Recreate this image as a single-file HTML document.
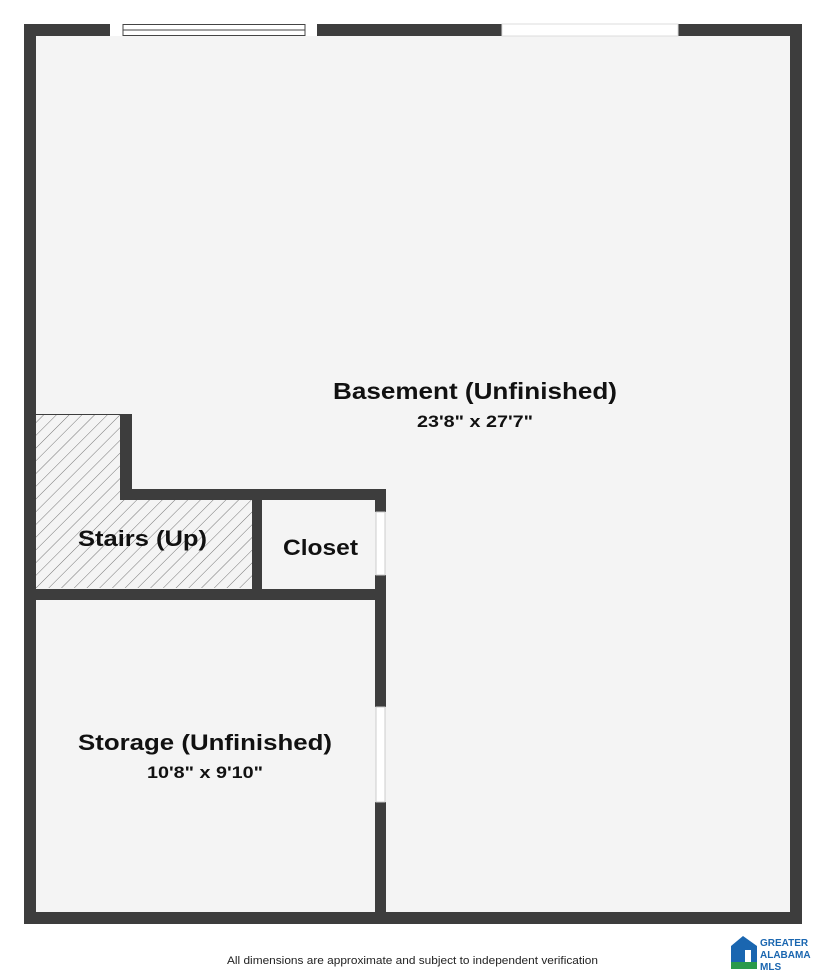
<!DOCTYPE html>
<html><head><meta charset="utf-8"><style>
html,body{margin:0;padding:0;background:#fff;}
body{width:825px;height:972px;position:relative;overflow:hidden;font-family:"Liberation Sans",sans-serif;}
</style></head><body>
<svg width="825" height="972" viewBox="0 0 825 972" style="position:absolute;left:0;top:0">
<defs>
<pattern id="h" width="9" height="9" patternUnits="userSpaceOnUse" patternTransform="rotate(45)">
<rect width="9" height="9" fill="#f4f4f4"/><line x1="0" y1="0" x2="0" y2="9" stroke="#777" stroke-width="1"/>
</pattern>
</defs>
<rect x="24" y="24" width="778" height="900" fill="#f4f4f4"/>
<path d="M36 414 H120 V500 H252 V588 H36 Z" fill="url(#h)"/>
<g fill="#3d3d3d">
<rect x="24" y="24" width="12" height="900"/>
<rect x="790" y="24" width="12" height="900"/>
<rect x="24" y="912" width="778" height="12"/>
<rect x="24" y="24" width="86" height="12"/>
<rect x="317" y="24" width="185" height="12"/>
<rect x="678" y="24" width="124" height="12"/>
<rect x="120" y="414" width="12" height="86"/>
<rect x="120" y="489" width="266" height="11"/>
<rect x="252" y="489" width="10" height="111"/>
<rect x="24" y="589" width="362" height="11"/>
<rect x="375" y="489" width="11" height="23"/>
<rect x="375" y="575" width="11" height="132"/>
<rect x="375" y="802" width="11" height="122"/>
</g>
<rect x="36" y="414" width="84" height="1" fill="#3d3d3d"/>
<rect x="376" y="512" width="9" height="63" fill="#fff" stroke="#ccc" stroke-width="1"/>
<rect x="376" y="707" width="9" height="95" fill="#fff" stroke="#ccc" stroke-width="1"/>
<rect x="110" y="24" width="207" height="12" fill="#fff"/>
<rect x="502" y="24" width="176" height="12" fill="#fff" stroke="#ddd" stroke-width="1"/>
<rect x="123" y="24.5" width="182" height="11" fill="#fff" stroke="#444" stroke-width="1"/>
<line x1="123" y1="30" x2="305" y2="30" stroke="#444" stroke-width="1"/>
<g font-family="Liberation Sans, sans-serif" font-weight="bold" fill="#111" lengthAdjust="spacingAndGlyphs">
<text x="333" y="399" font-size="23" textLength="284" lengthAdjust="spacingAndGlyphs">Basement (Unfinished)</text>
<text x="417" y="427" font-size="17" textLength="116" lengthAdjust="spacingAndGlyphs">23'8" x 27'7"</text>
<text x="78" y="546" font-size="22" textLength="129" lengthAdjust="spacingAndGlyphs">Stairs (Up)</text>
<text x="283" y="555" font-size="22" textLength="75" lengthAdjust="spacingAndGlyphs">Closet</text>
<text x="78" y="750" font-size="22" textLength="254" lengthAdjust="spacingAndGlyphs">Storage (Unfinished)</text>
<text x="147" y="778" font-size="17" textLength="116" lengthAdjust="spacingAndGlyphs">10'8" x 9'10"</text>
</g>
<text x="227" y="964" font-size="11" fill="#222" textLength="371" lengthAdjust="spacingAndGlyphs" font-family="Liberation Sans, sans-serif">All dimensions are approximate and subject to independent verification</text>
<path d="M743 936 L757 946 V966 H751 V950 H745 V966 H731 V946 Z" fill="#1a66b0"/>
<rect x="731" y="962" width="26" height="7" fill="#2a9a4a"/>
<g font-family="Liberation Sans, sans-serif" font-weight="bold" fill="#1a66b0" font-size="10">
<text x="760" y="946">GREATER</text>
<text x="760" y="958">ALABAMA</text>
<text x="760" y="970">MLS</text>
</g>
</svg>
</body></html>
